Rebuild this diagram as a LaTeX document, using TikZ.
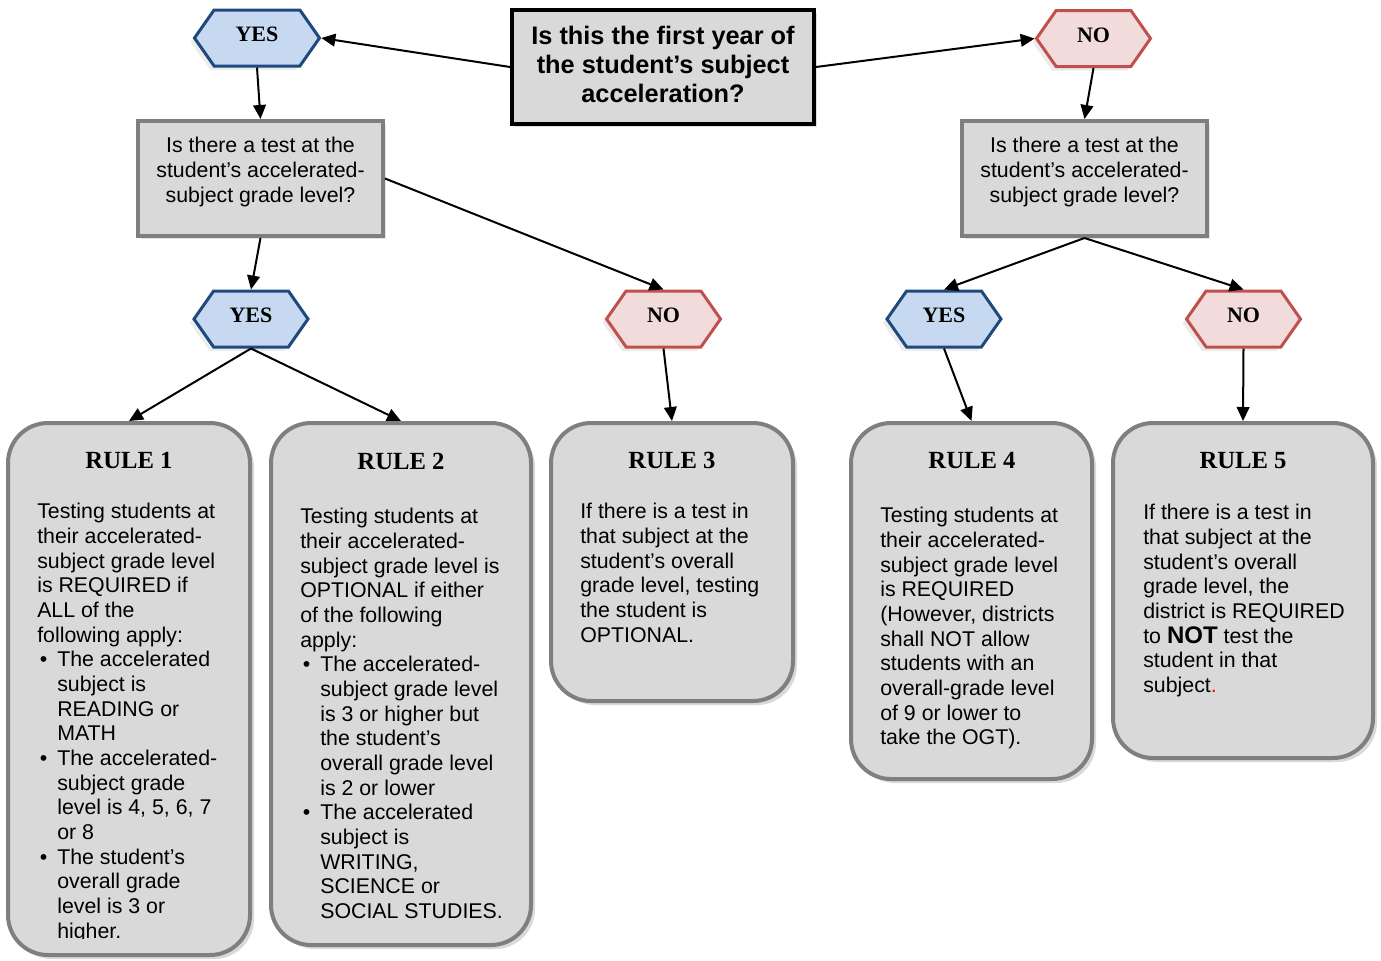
\documentclass[tikz,border=0pt]{standalone}
\usepackage{fontspec}
\setmainfont{Liberation Sans}
\newfontfamily\headserif{Liberation Serif}
\usetikzlibrary{arrows.meta,shapes.symbols,shadows}
\definecolor{boxgray}{HTML}{D9D9D9}
\definecolor{edgegray}{HTML}{7F7F7F}
\definecolor{yesfill}{HTML}{C6D9F1}
\definecolor{yesedge}{HTML}{1F497D}
\definecolor{nofill}{HTML}{F2DCDB}
\definecolor{noedge}{HTML}{C0504D}
\newcommand{\bul}{\makebox[15pt][l]{\hspace{2pt}\textbullet}}
\newcommand{\hang}{\hspace*{15pt}}

\begin{document}
\begin{tikzpicture}[x=0.75pt, y=-0.75pt, every node/.style={inner sep=0pt},
    arr/.style={-{Triangle[length=10.5pt,width=9.5pt]}, line width=1.5pt},
    hexa/.style={signal, signal to=east and west, signal pointer angle=110,
        minimum width=85.5pt, minimum height=42pt, line width=2.25pt, text depth=5pt,
        font=\headserif\bfseries\fontsize{16.5}{19}\selectfont,
        drop shadow={shadow xshift=-3pt, shadow yshift=-3pt, opacity=0.15}},
    yesbox/.style={hexa, fill=yesfill, draw=yesedge},
    nobox/.style={hexa, fill=nofill, draw=noedge},
    askbox/.style={rectangle, fill=boxgray, draw=edgegray, line width=3pt,
        minimum width=183.75pt, minimum height=86.25pt,
        drop shadow={shadow xshift=2pt, shadow yshift=-2pt, opacity=0.2}},
    asktext/.style={align=center, font=\fontsize{16}{18.75}\selectfont},
    rulebox/.style={rectangle, rounded corners=30pt, fill=boxgray, draw=edgegray,
        line width=3pt, drop shadow={shadow xshift=3pt, shadow yshift=-3pt, opacity=0.3}},
    rulehead/.style={font=\headserif\bfseries\fontsize{18.5}{20}\selectfont},
    ruletext/.style={anchor=north west, align=left, font=\fontsize{16}{18.5}\selectfont}]
    \useasboundingbox (0,0) rectangle (1381,960);

    \node (top) [rectangle, fill=boxgray, draw=black, line width=3pt,
        minimum width=226.5pt, minimum height=85.5pt,
        drop shadow={shadow xshift=2pt, shadow yshift=-2pt, opacity=0.25}] at (663,67) {};
    \node (toptext) [align=center, font=\bfseries\fontsize{19}{21.75}\selectfont]
        at (663,64) {Is this the first year of\\the student’s subject\\acceleration?};

    \node (yesA) [yesbox, minimum width=93.75pt] at (257,38) {YES};
    \node (noA) [nobox] at (1093.5,38.5) {NO};

    \node (askL) [askbox] at (260.5,178.5) {};
    \node (askLtext) [asktext] at (260.5,172) {Is there a test at the\\student’s accelerated-\\subject grade level?};
    \node (askR) [askbox] at (1084.5,178.5) {};
    \node (askRtext) [asktext] at (1084.5,172) {Is there a test at the\\student’s accelerated-\\subject grade level?};

    \node (yesB) [yesbox] at (251,319) {YES};
    \node (noB) [nobox] at (663.5,319) {NO};
    \node (yesC) [yesbox] at (944,319) {YES};
    \node (noC) [nobox] at (1243.5,319) {NO};

    \node (rule1) [rulebox, minimum width=181.5pt, minimum height=399pt] at (129,689) {};
    \node (rule2) [rulebox, minimum width=195pt, minimum height=391.5pt] at (401,684) {};
    \node (rule3) [rulebox, minimum width=181.5pt, minimum height=208.5pt] at (672,562) {};
    \node (rule4) [rulebox, minimum width=180.75pt, minimum height=267pt] at (971.5,601) {};
    \node (rule5) [rulebox, minimum width=195pt, minimum height=251.25pt] at (1243,590.5) {};

    \node (head1) [rulehead] at (129,460) {RULE 1};
    \node (head2) [rulehead] at (401,461) {RULE 2};
    \node (head3) [rulehead] at (672,460) {RULE 3};
    \node (head4) [rulehead] at (972,460) {RULE 4};
    \node (head5) [rulehead] at (1243,461) {RULE 5};

    \begin{scope}
        \clip (0,0) rectangle (1381,938);
        \node (text1) [ruletext] at (37,503) {Testing students at\\their accelerated-\\subject grade level\\is REQUIRED if\\ALL of the\\following apply:\\
            \bul The accelerated\\\hang subject is\\\hang READING or\\\hang MATH\\
            \bul The accelerated-\\\hang subject grade\\\hang level is 4, 5, 6, 7\\\hang or 8\\
            \bul The student’s\\\hang overall grade\\\hang level is 3 or\\\hang higher.};
    \end{scope}
    \node (text2) [ruletext] at (300,508) {Testing students at\\their accelerated-\\subject grade level is\\OPTIONAL if either\\of the following\\apply:\\
        \bul The accelerated-\\\hang subject grade level\\\hang is 3 or higher but\\\hang the student’s\\\hang overall grade level\\\hang is 2 or lower\\
        \bul The accelerated\\\hang subject is\\\hang WRITING,\\\hang SCIENCE or\\\hang SOCIAL STUDIES.};
    \node (text3) [ruletext] at (580,503) {If there is a test in\\that subject at the\\student’s overall\\grade level, testing\\the student is\\OPTIONAL.};
    \node (text4) [ruletext] at (880,507) {Testing students at\\their accelerated-\\subject grade level\\is REQUIRED\\(However, districts\\shall NOT allow\\students with an\\overall-grade level\\of 9 or lower to\\take the OGT).};
    \node (text5) [ruletext] at (1143,504) {If there is a test in\\that subject at the\\student’s overall\\grade level, the\\district is REQUIRED\\to \textbf{\fontsize{18}{18.5}\selectfont NOT} test the\\student in that\\subject\textcolor{red}{.}};

    \draw[arr] (top.west) -- (yesA.east);
    \draw[arr] (top.east) -- (noA.west);
    \draw[arr] (yesA.south) -- (askL.north);
    \draw[arr] (noA.south) -- (askR.north);
    \draw[arr] (askL.south) -- (yesB.north);
    \draw[arr] (askL.east) -- (noB.north);
    \draw[arr] (askR.south) -- (yesC.north);
    \draw[arr] (askR.south) -- (noC.north);
    \draw[arr] (yesB.south) -- (rule1.north);
    \draw[arr] (yesB.south) -- (rule2.north);
    \draw[arr] (noB.south) -- (rule3.north);
    \draw[arr] (yesC.south) -- (rule4.north);
    \draw[arr] (noC.south) -- (rule5.north);
\end{tikzpicture}
\end{document}
